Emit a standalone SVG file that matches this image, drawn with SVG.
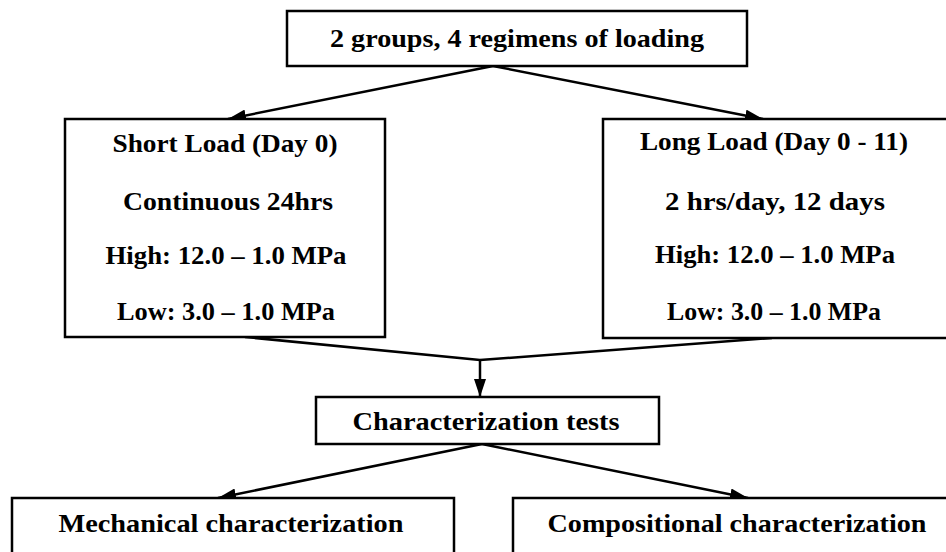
<svg xmlns="http://www.w3.org/2000/svg" width="946" height="552" viewBox="0 0 946 552">
  <defs>
    <style>
      .box { fill: #ffffff; stroke: #000000; stroke-width: 2.5; }
      .t { font-family: "Liberation Serif", "Times New Roman", serif; font-weight: bold; fill: #000000; text-anchor: middle; font-size: 26px; }
      .conn { stroke: #000000; stroke-width: 2.5; fill: none; }
    </style>
    <marker id="arrow" markerUnits="userSpaceOnUse" markerWidth="18" markerHeight="12" refX="18" refY="6" orient="auto">
      <path d="M0,0 L18,6 L0,12 z" fill="#000000"/>
    </marker>
  </defs>
  <rect width="946" height="552" fill="#ffffff"/>

  <g id="connectors">
    <line class="conn" x1="493" y1="66" x2="228" y2="119" marker-end="url(#arrow)"/>
    <line class="conn" x1="493" y1="66" x2="763" y2="119" marker-end="url(#arrow)"/>
    <line class="conn" x1="245" y1="337" x2="480" y2="360"/>
    <line class="conn" x1="772" y1="338" x2="480" y2="360"/>
    <line class="conn" x1="480" y1="360" x2="480" y2="397" marker-end="url(#arrow)"/>
    <line class="conn" x1="482" y1="444" x2="218" y2="498" marker-end="url(#arrow)"/>
    <line class="conn" x1="482" y1="444" x2="748" y2="498" marker-end="url(#arrow)"/>
  </g>

  <g id="node-top">
    <rect class="box" x="287" y="11" width="460" height="55"/>
    <text class="t" x="517" y="47" textLength="374" lengthAdjust="spacingAndGlyphs">2 groups, 4 regimens of loading</text>
  </g>

  <g id="node-short">
    <rect class="box" x="65" y="119" width="320" height="218"/>
    <text class="t" x="225" y="152" textLength="225" lengthAdjust="spacingAndGlyphs">Short Load (Day 0)</text>
    <text class="t" x="228" y="210" textLength="210" lengthAdjust="spacingAndGlyphs">Continuous 24hrs</text>
    <text class="t" x="226" y="264" textLength="241" lengthAdjust="spacingAndGlyphs">High: 12.0 – 1.0 MPa</text>
    <text class="t" x="226" y="320" textLength="218" lengthAdjust="spacingAndGlyphs">Low: 3.0 – 1.0 MPa</text>
  </g>

  <g id="node-long">
    <rect class="box" x="603" y="119" width="350" height="219"/>
    <text class="t" x="774" y="150" textLength="268" lengthAdjust="spacingAndGlyphs">Long Load (Day 0 - 11)</text>
    <text class="t" x="775" y="210" textLength="220" lengthAdjust="spacingAndGlyphs">2 hrs/day, 12 days</text>
    <text class="t" x="775" y="263" textLength="240" lengthAdjust="spacingAndGlyphs">High: 12.0 – 1.0 MPa</text>
    <text class="t" x="774" y="320" textLength="214" lengthAdjust="spacingAndGlyphs">Low: 3.0 – 1.0 MPa</text>
  </g>

  <g id="node-char">
    <rect class="box" x="316" y="397" width="343" height="47"/>
    <text class="t" x="486" y="430" textLength="267" lengthAdjust="spacingAndGlyphs">Characterization tests</text>
  </g>

  <g id="node-mech">
    <rect class="box" x="12" y="498" width="442" height="70"/>
    <text class="t" x="231" y="532" textLength="345" lengthAdjust="spacingAndGlyphs">Mechanical characterization</text>
  </g>

  <g id="node-comp">
    <rect class="box" x="513" y="498" width="450" height="70"/>
    <text class="t" x="737" y="532" textLength="379" lengthAdjust="spacingAndGlyphs">Compositional characterization</text>
  </g>
</svg>
